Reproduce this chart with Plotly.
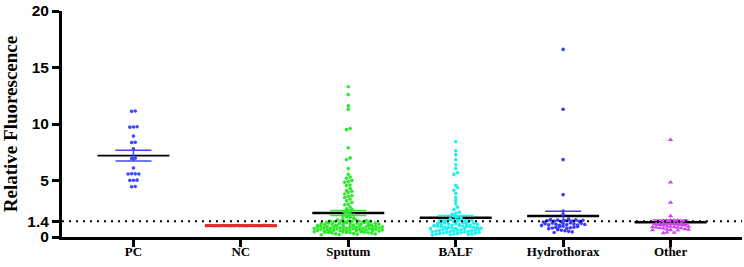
import math
import plotly.graph_objects as go

categories = ["PC", "NC", "Sputum", "BALF", "Hydrothorax", "Other"]

pc_values = [11.15, 11.12, 9.76, 9.74, 9.72, 8.93, 8.38, 8.36, 7.8, 6.97, 6.95,
             6.1, 5.6, 5.59, 5.58, 5.57, 5.03, 5.02, 5.01, 4.47, 4.45]

nc_values = [1.02, 1.01, 1.0, 1.03, 0.99, 1.0, 1.01, 1.02, 1.0, 0.99, 1.01, 1.0, 1.02,
             1.0, 1.01, 0.99, 1.0, 1.02, 1.01, 1.0, 0.99, 1.01, 1.0, 1.02, 1.01, 1.0]

sputum_values = [13.3, 12.6, 11.6, 11.3, 9.6, 9.5, 7.9, 7.0, 6.85, 6.05,
                 5.55, 5.3, 5.2, 5.0, 4.9, 4.85, 4.6, 4.55, 4.3, 4.1,
                 4.05, 3.95, 3.8, 3.65, 3.6, 3.5, 3.35, 3.2, 3.05, 2.9,
                 2.85, 2.65, 2.5, 2.45, 2.35, 2.2, 2.15, 2.05, 1.95, 1.9,
                 1.8, 1.75, 1.65, 1.6, 1.55, 1.5,
                 1.45, 1.44, 1.42, 1.41, 1.40, 1.38, 1.37, 1.35, 1.33, 1.32, 1.30, 1.28, 1.27, 1.25, 1.23,
                 1.21, 1.20, 1.18, 1.17, 1.15, 1.14, 1.12, 1.11, 1.10, 1.08, 1.07, 1.05, 1.04, 1.02, 1.01, 1.00, 0.99, 0.97,
                 0.96, 0.95, 0.93, 0.92, 0.91, 0.90, 0.88, 0.87, 0.86, 0.85, 0.83, 0.82, 0.81, 0.80, 0.78, 0.77, 0.76, 0.75, 0.73,
                 0.72, 0.71, 0.70, 0.68, 0.67, 0.66, 0.65, 0.63, 0.62, 0.61, 0.60, 0.58, 0.57, 0.56, 0.55, 0.53, 0.52, 0.51,
                 0.50, 0.48, 0.47, 0.46, 0.45, 0.43, 0.42, 0.41, 0.40, 0.38, 0.37, 0.35, 0.33, 0.31, 0.29, 0.27, 0.25, 0.22, 0.20]

balf_values = [8.43, 7.62, 7.27, 6.83, 6.4, 6.06, 5.68, 5.54, 4.58, 4.38, 4.14, 3.86, 3.5,
               3.22, 2.93, 2.64, 2.43, 2.2, 2.1, 2.0, 1.85, 1.77, 1.7, 1.6, 1.55, 1.5,
               1.45, 1.43, 1.41, 1.39, 1.37, 1.35, 1.33, 1.30, 1.28, 1.25,
               1.22, 1.20, 1.18, 1.16, 1.14, 1.12, 1.10, 1.08, 1.06, 1.04, 1.02, 1.00, 0.98, 0.97, 0.95, 0.93, 0.91, 0.89,
               0.88, 0.86, 0.84, 0.82, 0.80, 0.78, 0.76, 0.74, 0.72, 0.70, 0.68, 0.66, 0.64,
               0.62, 0.60, 0.58, 0.56, 0.54, 0.52, 0.50, 0.48, 0.46, 0.44, 0.42, 0.40,
               0.38, 0.36, 0.34, 0.32, 0.30, 0.28, 0.26, 0.24, 0.22, 0.20, 0.18]

hydrothorax_values = [16.6, 11.3, 6.85, 3.75, 2.3, 2.0,
                      1.58, 1.55, 1.52, 1.50, 1.48, 1.46, 1.44, 1.42, 1.40, 1.38, 1.36, 1.33,
                      1.25, 1.23, 1.21, 1.19, 1.17, 1.15, 1.13, 1.11, 1.09, 1.07, 1.05, 1.03, 1.01,
                      0.95, 0.92, 0.90, 0.87, 0.85, 0.82, 0.80, 0.77, 0.74,
                      0.65, 0.60, 0.55, 0.50, 0.45, 0.40]

other_values = [8.6, 4.84, 3.04, 1.85,
                1.50, 1.48, 1.46, 1.45, 1.43, 1.42, 1.40, 1.38,
                1.25, 1.23, 1.21, 1.20, 1.18, 1.16, 1.14, 1.12, 1.10, 1.08, 1.06, 1.04, 1.02,
                0.95, 0.93, 0.91, 0.89, 0.87, 0.85, 0.83, 0.80, 0.78, 0.76,
                0.70, 0.68, 0.66, 0.64, 0.62, 0.60, 0.58,
                0.42, 0.38, 0.34]

y_tick_values = [0, 1.4, 5, 10, 15, 20]
y_tick_labels = ["0", "1.4", "5", "10", "15", "20"]
cutoff_value = 1.4

groups = [pc_values, nc_values, sputum_values, balf_values, hydrothorax_values, other_values]
colors = ["#4048FF", "#F02828", "#2BEA2B", "#22EEEE", "#3A3AFF", "#CC44EE"]
symbols = ["circle", "circle", "circle", "circle", "circle", "triangle-up"]
msizes = [3.6, 3.6, 3.6, 3.6, 3.6, 4.6]

Y_PX_PER_UNIT = 230 / 20.0
X_PX_PER_UNIT = 680 / 6.33
ROW_H = 3.0 / Y_PX_PER_UNIT
STEP = 3.6 / X_PX_PER_UNIT
MAX_HALF = 34.0 / X_PX_PER_UNIT


def swarm_offsets(vals):
    order = sorted(range(len(vals)), key=lambda i: vals[i])
    rows, cur, start = [], [order[0]], vals[order[0]]
    for i in order[1:]:
        if vals[i] - start <= ROW_H:
            cur.append(i)
        else:
            rows.append(cur)
            cur, start = [i], vals[i]
    rows.append(cur)
    offs = [0.0] * len(vals)
    for row in rows:
        k = len(row)
        s = STEP
        if k > 1 and (k - 1) * STEP / 2 > MAX_HALF:
            s = 2 * MAX_HALF / (k - 1)
        stride = 1
        for cand in (5, 7, 3, 11, 13):
            if cand < k and math.gcd(cand, k) == 1:
                stride = cand
                break
        for j, idx in enumerate(row):
            pos = (j * stride) % k
            offs[idx] = (pos - (k - 1) / 2) * s
    return offs


fig = go.Figure()

stats = []
for vals in groups:
    n = len(vals)
    m = sum(vals) / n
    sd = math.sqrt(sum((v - m) ** 2 for v in vals) / (n - 1))
    stats.append((m, sd / math.sqrt(n)))

# mean lines
for i, (m, se) in enumerate(stats):
    fig.add_trace(go.Scatter(x=[i - 0.335, i + 0.335], y=[m, m], mode="lines",
                             line=dict(color="black", width=1.6 if i == 0 else 2.5),
                             hoverinfo="skip", showlegend=False))

# points
for i, vals in enumerate(groups):
    offs = swarm_offsets(vals)
    fig.add_trace(go.Scatter(x=[i + o for o in offs], y=vals, mode="markers",
                             marker=dict(color=colors[i], size=msizes[i], symbol=symbols[i],
                                         line=dict(width=0)),
                             showlegend=False))

# SEM bars
for i, (m, se) in enumerate(stats):
    fig.add_trace(go.Scatter(x=[i], y=[m], mode="markers",
                             marker=dict(size=1, color="rgba(0,0,0,0)"),
                             error_y=dict(type="data", array=[se], visible=True,
                                          color=colors[i], thickness=1.5, width=18),
                             hoverinfo="skip", showlegend=False))

fig.add_shape(type="line", xref="paper", x0=0, x1=1, yref="y", y0=cutoff_value, y1=cutoff_value,
              line=dict(color="black", width=2, dash="2px,5px"))

fig.update_layout(
    width=744, height=267,
    margin=dict(l=62, r=2, t=7, b=30),
    plot_bgcolor="white", paper_bgcolor="white",
    showlegend=False,
    xaxis=dict(range=[-0.665, 5.665], tickmode="array", tickvals=list(range(6)),
               ticktext=categories, showline=True, linecolor="black", linewidth=3,
               ticks="outside", ticklen=7, tickwidth=3, tickcolor="black",
               ticklabelstandoff=-7,
               tickfont=dict(family="Liberation Serif", size=13, color="black", weight="bold"),
               showgrid=False, zeroline=False),
    yaxis=dict(range=[0, 20], tickmode="array", tickvals=y_tick_values,
               ticktext=y_tick_labels, ticklabeloverflow="allow",
               showline=True, linecolor="black", linewidth=3,
               ticks="outside", ticklen=7, tickwidth=3, tickcolor="black",
               tickfont=dict(family="Liberation Sans", size=15.5, color="black", weight="bold"),
               title=dict(text="Relative Fluorescence", standoff=9,
                          font=dict(family="Liberation Serif", size=19, color="black", weight="bold")),
               showgrid=False, zeroline=False),
)

fig.write_html("out.html", config={"displayModeBar": False},
               post_script="document.body.style.margin='0';document.body.style.overflow='hidden';")
